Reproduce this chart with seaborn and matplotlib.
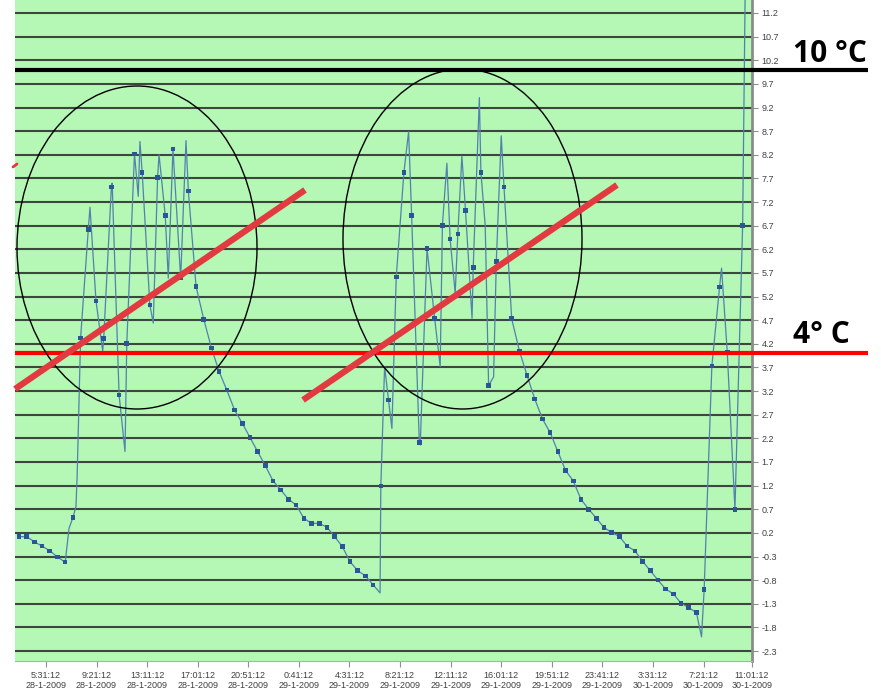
import numpy as np
import pandas as pd
import matplotlib
matplotlib.use("Agg")
import matplotlib.pyplot as plt
import seaborn as sns
from matplotlib.patches import Ellipse
from matplotlib.lines import Line2D

# ---------------- data ----------------
marker_start = "2009-01-28 03:28:40"
marker_step_minutes = 35
marker_values = [
    0.12, 0.12, 0.01, -0.08, -0.18, -0.31, -0.42, 0.52, 4.32, 6.62,
    5.11, 4.31, 7.52, 3.12, 4.21, 8.22, 7.82, 5.02, 7.72, 6.91,
    8.32, 5.59, 7.43, 5.41, 4.72, 4.11, 3.61, 3.22, 2.80, 2.52,
    2.22, 1.92, 1.62, 1.30, 1.11, 0.91, 0.79, 0.51, 0.40, 0.40,
    0.32, 0.12, -0.09, -0.41, -0.60, -0.71, -0.90, 1.19, 3.01, 5.61,
    7.83, 6.92, 2.11, 6.22, 4.73, 6.71, 6.42, 6.52, 7.02, 5.81,
    7.83, 3.32, 5.94, 7.52, 4.73, 4.05, 3.53, 3.03, 2.61, 2.32,
    1.92, 1.52, 1.30, 0.91, 0.70, 0.51, 0.31, 0.21, 0.12, -0.08,
    -0.18, -0.40, -0.60, -0.80, -0.99, -1.09, -1.29, -1.38, -1.49, -1.00,
    3.73, 5.40, 4.03, 0.70, 6.71,
]
# extra line-only vertices (peaks / troughs between markers),
# position given in marker steps from marker_start
vertex_pos = [
    6.5, 7.4, 7.55, 9.22, 10.87, 12.1, 13.77, 15.49, 15.71, 17.44,
    18.19, 19.39, 21.69,
    46.9, 47.49, 48.44, 50.61, 52.12, 54.71, 55.58, 56.66, 57.53,
    58.85, 59.8, 60.56, 61.65, 62.64,
    88.66, 91.26, 94.35,
]
vertex_values = [
    0.30, 0.76, 1.39, 7.09, 4.05, 7.60, 1.92, 7.32, 8.48, 4.64,
    8.20, 5.59, 8.50,
    -1.07, 3.72, 2.41, 8.69, 2.06, 3.72, 8.02, 5.27, 8.17,
    4.74, 9.41, 6.70, 3.50, 8.60,
    -2.00, 5.80, 12.0,
]

x_tick_times = [
    "2009-01-28 05:31:12", "2009-01-28 09:21:12", "2009-01-28 13:11:12",
    "2009-01-28 17:01:12", "2009-01-28 20:51:12", "2009-01-29 00:41:12",
    "2009-01-29 04:31:12", "2009-01-29 08:21:12", "2009-01-29 12:11:12",
    "2009-01-29 16:01:12", "2009-01-29 19:51:12", "2009-01-29 23:41:12",
    "2009-01-30 03:31:12", "2009-01-30 07:21:12", "2009-01-30 11:01:12",
]
x_tick_labels = [
    "5:31:12\n28-1-2009", "9:21:12\n28-1-2009", "13:11:12\n28-1-2009",
    "17:01:12\n28-1-2009", "20:51:12\n28-1-2009", "0:41:12\n29-1-2009",
    "4:31:12\n29-1-2009", "8:21:12\n29-1-2009", "12:11:12\n29-1-2009",
    "16:01:12\n29-1-2009", "19:51:12\n29-1-2009", "23:41:12\n29-1-2009",
    "3:31:12\n30-1-2009", "7:21:12\n30-1-2009", "11:01:12\n30-1-2009",
]
x_range = ["2009-01-28 03:10:27", "2009-01-30 11:01:12"]
y_ticks = [11.2, 10.7, 10.2, 9.7, 9.2, 8.7, 8.2, 7.7, 7.2, 6.7, 6.2, 5.7,
           5.2, 4.7, 4.2, 3.7, 3.2, 2.7, 2.2, 1.7, 1.2, 0.7, 0.2, -0.3,
           -0.8, -1.3, -1.8, -2.3]
y_tick_labels = ["11.2", "10.7", "10.2", "9.7", "9.2", "8.7", "8.2", "7.7",
                 "7.2", "6.7", "6.2", "5.7", "5.2", "4.7", "4.2", "3.7",
                 "3.2", "2.7", "2.2", "1.7", "1.2", "0.7", "0.2", "-0.3",
                 "-0.8", "-1.3", "-1.8", "-2.3"]
y_range = (-2.511, 11.475)

limit_values = [10.0, 4.0]
limit_labels = ["10 °C", "4° C"]

# ---------------- build frames ----------------
t0 = pd.Timestamp(marker_start)
step = pd.Timedelta(minutes=marker_step_minutes)
marker_times = [t0 + i * step for i in range(len(marker_values))]
vertex_times = [t0 + p * step for p in vertex_pos]
line_df = pd.DataFrame({"time": marker_times + vertex_times,
                        "temp": marker_values + vertex_values}).sort_values("time")
marker_df = pd.DataFrame({"time": marker_times, "temp": marker_values})

# ---------------- style ----------------
sns.set_theme(style="white")
plt.rcParams["font.family"] = ["Liberation Sans", "DejaVu Sans"]

W, H = 881, 691
fig = plt.figure(figsize=(W / 100, H / 100), dpi=100)
ax_l, ax_r, ax_t, ax_b = 15, 752, 0, 661
ax = fig.add_axes([ax_l / W, 1 - ax_b / H, (ax_r - ax_l) / W, (ax_b - ax_t) / H])
ax.set_facecolor("#b5f7b4")

for yv in y_ticks:
    ax.axhline(yv, color="#3d473d", lw=1.5, zorder=1)

sns.lineplot(data=line_df, x="time", y="temp", ax=ax, color="#4f83ad",
             lw=0.9, estimator=None, sort=False, zorder=3)
sns.scatterplot(data=marker_df, x="time", y="temp", ax=ax, marker="s",
                s=11, color="#2b5597", edgecolor="none", zorder=4)

ax.set_xlim(pd.Timestamp(x_range[0]), pd.Timestamp(x_range[1]))
ax.set_ylim(*y_range)
ax.set_xticks([pd.Timestamp(t) for t in x_tick_times])
ax.set_xticklabels(x_tick_labels, fontsize=6.5, color="#404040", linespacing=1.25)
ax.yaxis.tick_right()
ax.set_yticks(y_ticks)
ax.set_yticklabels(y_tick_labels, fontsize=6.5, color="#404040")
ax.tick_params(axis="x", length=4, width=0.8, color="#909090", pad=3, bottom=True)
ax.tick_params(axis="y", length=4, width=0.8, color="#909090", pad=3, right=True, left=False)
ax.set_xlabel("")
ax.set_ylabel("")
ax.grid(False)
for side in ["left", "top"]:
    ax.spines[side].set_visible(False)
ax.spines["right"].set_color("#8c8c8c")
ax.spines["right"].set_linewidth(2)
ax.spines["bottom"].set_color("#b0b0b0")
ax.spines["bottom"].set_linewidth(0.8)

# ---------------- annotations ----------------
ext = (868 - ax_l) / (ax_r - ax_l)
ax.plot([0, ext], [limit_values[0]] * 2, transform=ax.get_yaxis_transform(),
        color="black", lw=3, clip_on=False, zorder=6, solid_capstyle="butt")
ax.plot([0, ext], [limit_values[1]] * 2, transform=ax.get_yaxis_transform(),
        color="#ff0000", lw=3, clip_on=False, zorder=6, solid_capstyle="butt")


def fp(x, y):
    return x / W, 1 - y / H


fig.text(*fp(793, 62), limit_labels[0], fontsize=21.5, fontweight="bold",
         family=["Open Sans", "DejaVu Sans"], va="baseline", ha="left", color="black")
fig.text(*fp(793, 343), limit_labels[1], fontsize=21.5, fontweight="bold",
         family=["Open Sans", "DejaVu Sans"], va="baseline", ha="left", color="black")

for cx, cy, ew, eh in [(137, 247.5, 240, 323), (462.5, 239, 239, 340)]:
    fig.add_artist(Ellipse(fp(cx, cy), ew / W, eh / H, transform=fig.transFigure,
                           fill=False, edgecolor="black", lw=1.0, zorder=7))

for (x1, y1), (x2, y2) in [((15, 389), (305, 190)), ((303, 400), (617, 185))]:
    a, b = fp(x1, y1), fp(x2, y2)
    fig.add_artist(Line2D([a[0], b[0]], [a[1], b[1]], transform=fig.transFigure,
                          color="#e23a40", lw=4.5, solid_capstyle="butt", zorder=8))
a, b = fp(13, 167), fp(17, 164)
fig.add_artist(Line2D([a[0], b[0]], [a[1], b[1]], transform=fig.transFigure,
                      color="#e23a40", lw=2, zorder=8))

fig.savefig("out.png", dpi=100, facecolor="white")
